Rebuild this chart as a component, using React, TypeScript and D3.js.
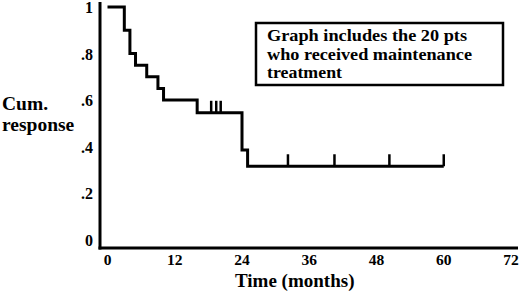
import * as d3 from "d3";

// Kaplan-Meier style step curve
const stepTimes = [0, 3, 4, 5, 7, 9, 10, 16, 24, 25, 60];
const stepValues = [1, 0.9, 0.8, 0.75, 0.7, 0.65, 0.6, 0.545, 0.385, 0.315, 0.315];

// censored observations (little vertical ticks)
const censorTimes = [18.5, 19.4, 20.2, 32.2, 40.5, 50.3, 60];
const censorValues = [0.545, 0.545, 0.545, 0.315, 0.315, 0.315, 0.315];

const xTicks = [0, 12, 24, 36, 48, 60, 72];
const yTicks = [0, 0.2, 0.4, 0.6, 0.8, 1];
const yTickLabels = ["0", ".2", ".4", ".6", ".8", "1"];

const noteLines = [
  "Graph includes the 20 pts",
  "who received maintenance",
  "treatment",
];
// the note is set in a wider face than the axis text, so stretch each line
const noteWidths = [200, 205, 75];

const width = 520;
const height = 294;
const font = '"Liberation Serif", "Times New Roman", Times, serif';

export default function App() {
  const x = d3.scaleLinear().domain([0, 72]).range([107.5, 511]);
  const y = d3.scaleLinear().domain([0, 1]).range([239.5, 7]);

  const pts = stepTimes.map((t, i) => [t, stepValues[i]] as [number, number]);
  const line = d3
    .line<[number, number]>()
    .x((d) => x(d[0]))
    .y((d) => y(d[1]))
    .curve(d3.curveStepAfter);

  return (
    <svg
      width={width}
      height={height}
      style={{
        position: "absolute",
        left: 0,
        top: 0,
        background: "#fff",
        fontFamily: font,
        fontWeight: "bold",
      }}
    >
      {/* axes */}
      <line x1={100} y1={2} x2={100} y2={249.5} stroke="#000" strokeWidth={3} />
      <line x1={98.5} y1={248} x2={518} y2={248} stroke="#000" strokeWidth={3} />

      {/* y tick labels */}
      {yTicks.map((v, i) => (
        <text key={v} x={93} y={y(v) + 6} textAnchor="end" fontSize={16}>
          {yTickLabels[i]}
        </text>
      ))}

      {/* x tick labels */}
      {xTicks.map((t) => (
        <text key={t} x={x(t)} y={265} textAnchor="middle" fontSize={15.5}>
          {t}
        </text>
      ))}

      {/* axis titles */}
      <text x={2} y={110} fontSize={19.5}>Cum.</text>
      <text x={2} y={131} fontSize={19.5}>response</text>
      <text x={235} y={287} fontSize={19}>Time (months)</text>

      {/* curve */}
      <path d={line(pts)!} fill="none" stroke="#000" strokeWidth={3} strokeLinejoin="miter" />

      {/* censor ticks */}
      {censorTimes.map((t, i) => (
        <line
          key={i}
          x1={x(t)}
          x2={x(t)}
          y1={y(censorValues[i]) - 12}
          y2={y(censorValues[i])}
          stroke="#000"
          strokeWidth={2.5}
        />
      ))}

      {/* note box */}
      <rect x={256} y={23} width={247} height={62} fill="#fff" stroke="#000" strokeWidth={2.5} />
      {noteLines.map((s, i) => (
        <text
          key={i}
          x={267}
          y={41 + i * 18.6}
          fontSize={17.5}
          textLength={noteWidths[i]}
          lengthAdjust="spacingAndGlyphs"
        >
          {s}
        </text>
      ))}
    </svg>
  );
}
